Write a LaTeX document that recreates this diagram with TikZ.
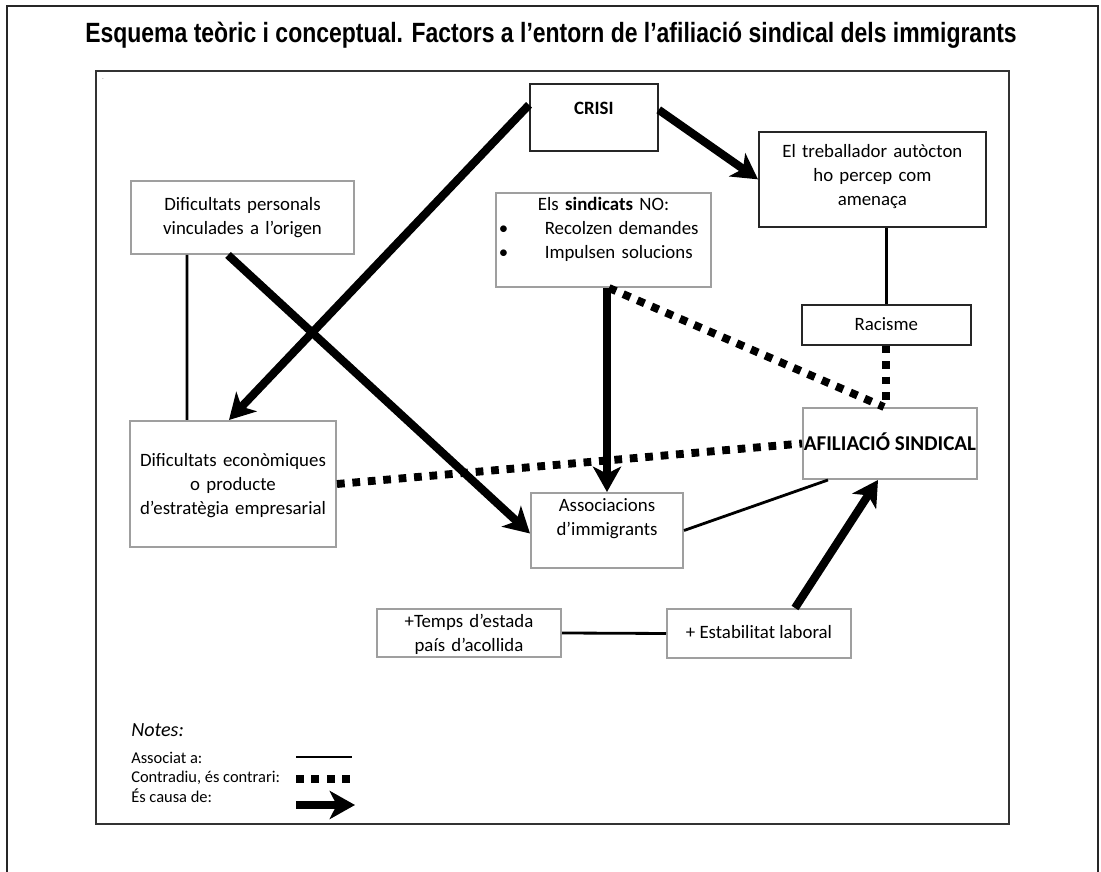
\documentclass[tikz,border=0pt]{standalone}
\usepackage{fontspec}
\setmainfont{Carlito}
\newfontfamily\titlefont[FakeStretch=0.825]{Liberation Sans}
\usetikzlibrary{arrows.meta,calc}

\begin{document}
\begin{tikzpicture}[x=0.025cm,y=-0.025cm]
        \tikzset{gbox/.style={draw=gray!75, line width=1.4pt, inner ysep=0pt, inner xsep=2pt, align=center, anchor=north west, font=\fontsize{13.4}{17}\selectfont},
                 kbox/.style={gbox, draw=black!85, line width=1.2pt},
                 causa/.style={line width=5.8pt, -{Stealth[length=18pt, width=20pt, inset=5pt]}},
                 contra/.style={line width=5.6pt, dash pattern=on 5.5pt off 5.5pt},
                 assoc/.style={line width=2pt},
                 legend/.style={anchor=base west, inner sep=0pt, font=\fontsize{11.7}{14}\selectfont}}
        \useasboundingbox (0,0) rectangle (1101,872);

        % frames and title
        \draw[line width=2pt, black!85] (7,872) -- (7,6) -- (1098,6) -- (1098,872);
        \draw[line width=1.3pt, black!80] (96,71) rectangle (1009,824);
        \node[anchor=base, font={\titlefont\fontsize{19.8}{22}\selectfont\bfseries}] (title) at (551,43)
            {Esquema teòric i conceptual. Factors a l’entorn de l’afiliació sindical dels immigrants};
        \node[font=\tiny, text=gray, inner sep=0pt] (dot) at (103,79) {.};

        % boxes
        \node[kbox, minimum width=3.2cm, text height=0.775cm, text depth=0.9cm] (crisi) at (529,83) {\textbf{CRISI}};
        \node[kbox, text width=5.534cm, text height=0.65cm, text depth=1.725cm] (trab) at (758,131)
            {El treballador autòcton\\ ho percep com\\ amenaça};
        \node[gbox, text width=5.434cm, text height=0.75cm, text depth=1.075cm] (difpers) at (130,180)
            {Dificultats personals\\ vinculades a l’origen};
        \node[gbox, align=left, text width=5.234cm, text height=0.45cm, text depth=1.9cm] (sind) at (495,192)
            {\makebox[\linewidth]{Els \textbf{sindicats} NO:}\\
             \makebox[1.15cm][l]{\textbullet}Recolzen demandes\\
             \makebox[1.15cm][l]{\textbullet}Impulsen solucions};
        \node[kbox, minimum width=4.225cm, text height=0.65cm, text depth=0.35cm] (racisme) at (801,304) {Racisme};
        \node[gbox, inner xsep=0pt, minimum width=4.35cm, text height=1.075cm, text depth=0.7cm,
              font=\fontsize{15}{17}\selectfont\bfseries] (afil) at (802,407) {AFILIACIÓ SINDICAL};
        \node[gbox, text width=5.009cm, text height=1.15cm, text depth=2.0cm] (difecon) at (129,420)
            {Dificultats econòmiques\\ o producte\\ d’estratègia empresarial};
        \node[gbox, text width=3.659cm, text height=0.475cm, text depth=1.4cm] (assoc) at (530,492)
            {Associacions\\ d’immigrants};
        \node[gbox, text width=4.459cm, text height=0.475cm, text depth=0.725cm] (temps) at (376,608)
            {+Temps d’estada\\ país d’acollida};
        \node[gbox, minimum width=4.6cm, text height=0.75cm, text depth=0.475cm] (estab) at (666,608)
            {+ Estabilitat laboral};

        % es causa de
        \draw[causa] ($(crisi.west)+(0,-12.5)$) -- ($(difecon.north)+(-4,0)$);
        \draw[causa] ($(crisi.east)+(0,-7.5)$) -- (trab.west);
        \draw[causa] ($(difpers.south)+(-14.5,0)$) -- ($(assoc.west)+(0,3)$);
        \draw[causa] (assoc.north |- sind.south) -- (assoc.north);
        \draw[causa] ($(estab.north)+(36,0)$) -- ($(afil.south)+(-12,0)$);

        % contradiu
        \draw[contra] (difecon.east) -- (afil.west);
        \draw[contra] ($(assoc.north |- sind.south)+(2,0)$) -- ($(afil.north)+(-6,0)$);
        \draw[contra] (racisme.south) -- (racisme.south |- afil.north);

        % associat a
        \draw[assoc] ($(difpers.south)+(-55.5,0)$) -- ($(difecon.north)+(-46,0)$);
        \draw[assoc] (racisme.north |- trab.south) -- (racisme.north);
        \draw[assoc] (assoc.east) -- ($(afil.south west)+(26,0)$);
        \draw[assoc] (temps.east) -- (estab.west);

        % notes
        \node[legend, font=\fontsize{14.3}{16}\selectfont\itshape] (notes) at (131,737) {Notes:};
        \node[legend] (lassoc) at (131,764) {Associat a:};
        \node[legend] (lcontra) at (131,783) {Contradiu, és contrari:};
        \node[legend] (lcausa) at (131,803) {És causa de:};
        \coordinate (la) at (296,757);
        \coordinate (lb) at (352,757);
        \coordinate (lc) at (296,779);
        \coordinate (ld) at (356,779);
        \coordinate (le) at (296,805);
        \coordinate (lf) at (355,805);
        \draw[assoc] (la) -- (lb);
        \draw[contra] (lc) -- (ld);
        \draw[causa] (le) -- (lf);
\end{tikzpicture}
\end{document}
